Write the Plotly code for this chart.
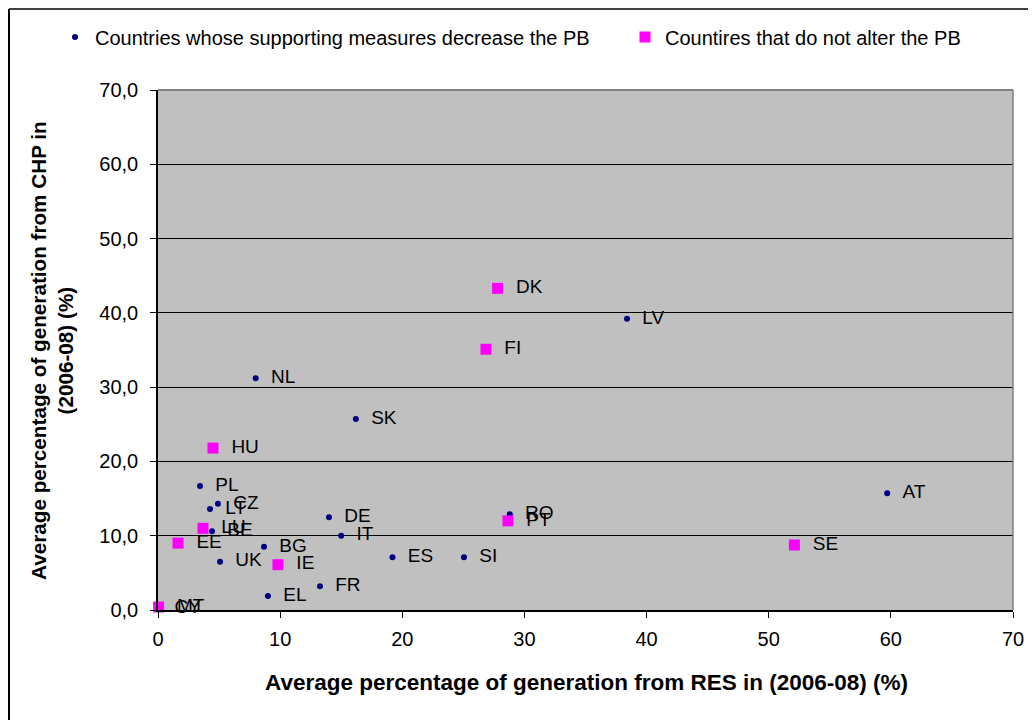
import plotly.graph_objects as go

# Countries whose supporting measures decrease the PB
dec_codes = ["PL", "CZ", "LT", "BE", "BG", "UK", "EL", "FR", "DE", "IT", "ES", "SI",
             "RO", "SK", "NL", "LV", "AT", "CY"]
dec_res = [3.44, 4.91, 4.26, 4.42, 8.68, 5.08, 9.0, 13.26, 14.0, 15.0, 19.2, 25.05,
           28.8, 16.2, 8.0, 38.4, 59.7, 0.1]
dec_chp = [16.7, 14.3, 13.6, 10.6, 8.5, 6.5, 1.9, 3.2, 12.5, 10.0, 7.1, 7.1,
           12.9, 25.7, 31.2, 39.2, 15.7, 0.3]

# Countires that do not alter the PB
noalt_codes = ["LU", "EE", "IE", "PT", "HU", "DK", "FI", "SE", "MT"]
noalt_res = [3.68, 1.64, 9.82, 28.65, 4.5, 27.8, 26.85, 52.1, 0.05]
noalt_chp = [11.0, 9.0, 6.1, 12.0, 21.8, 43.3, 35.1, 8.75, 0.4]

FONT = "Arial, Liberation Sans, sans-serif"
pad = "\u00a0\u00a0"

fig = go.Figure()
fig.add_trace(go.Scatter(
    x=dec_res, y=dec_chp, mode="markers+text",
    text=[pad + c for c in dec_codes], textposition="middle right",
    textfont=dict(size=19, color="black", family=FONT),
    marker=dict(symbol="circle", size=6, color="#000080"),
    name="Countries whose supporting measures decrease the PB",
    cliponaxis=False, legend="legend",
))
fig.add_trace(go.Scatter(
    x=noalt_res, y=noalt_chp, mode="markers+text",
    text=[pad + c for c in noalt_codes], textposition="middle right",
    textfont=dict(size=19, color="black", family=FONT),
    marker=dict(symbol="square", size=11, color="#FF00FF"),
    name="Countires that do not alter the PB",
    cliponaxis=False, legend="legend2",
))

leg = dict(orientation="h", xanchor="left", y=1.1019, yanchor="middle",
           font=dict(size=20), bgcolor="rgba(0,0,0,0)", itemsizing="trace", itemwidth=30)

fig.update_layout(
    width=1036, height=720,
    margin=dict(l=150, r=31, t=82, b=118, autoexpand=False),
    paper_bgcolor="white", plot_bgcolor="#C0C0C0",
    font=dict(family=FONT, size=20, color="black"),
    separators=", ",
    showlegend=True,
    legend=dict(leg, x=-0.1205),
    legend2=dict(leg, x=0.5462),
    xaxis=dict(range=[0, 70], dtick=10, tickformat="d", showgrid=False, zeroline=False,
               showline=True, linecolor="black", linewidth=1.5, mirror=False,
               ticks="outside", ticklen=6, tickcolor="black", tickfont=dict(size=20),
               ticklabelstandoff=4),
    yaxis=dict(range=[0, 70], dtick=10, tickformat=".1f", showgrid=True, gridcolor="black",
               gridwidth=1, zeroline=False, showline=True, linecolor="black", linewidth=1.5,
               ticks="outside", ticklen=6, tickcolor="black", tickfont=dict(size=20),
               ticklabelstandoff=8),
    shapes=[
        # grey top/right edges of the plot area
        dict(type="line", xref="paper", yref="paper", x0=0, x1=1, y0=1, y1=1,
             line=dict(color="#808080", width=2)),
        dict(type="line", xref="paper", yref="paper", x0=1, x1=1, y0=0, y1=1,
             line=dict(color="#808080", width=1.5)),
        # outer chart frame
        dict(type="line", xref="paper", yref="paper", x0=-0.1743, x1=1.03, y0=1.1558, y1=1.1558,
             line=dict(color="#404040", width=2)),
        dict(type="line", xref="paper", yref="paper", x0=-0.1743, x1=-0.1743, y0=1.1558, y1=-0.22,
             line=dict(color="black", width=2)),
    ],
    annotations=[
        dict(text="<b>Average percentage of generation from RES in (2006-08) (%)</b>",
             xref="paper", yref="paper", x=0.5006, y=-0.140, showarrow=False,
             xanchor="center", yanchor="middle", font=dict(size=22.5)),
        dict(text="<b>Average percentage of generation from CHP in<br>(2006-08) (%)</b>",
             xref="paper", yref="paper", x=-0.124, y=0.5, showarrow=False,
             textangle=-90, xanchor="center", yanchor="middle", font=dict(size=20.7)),
    ],
)

fig.write_html("out.html")
